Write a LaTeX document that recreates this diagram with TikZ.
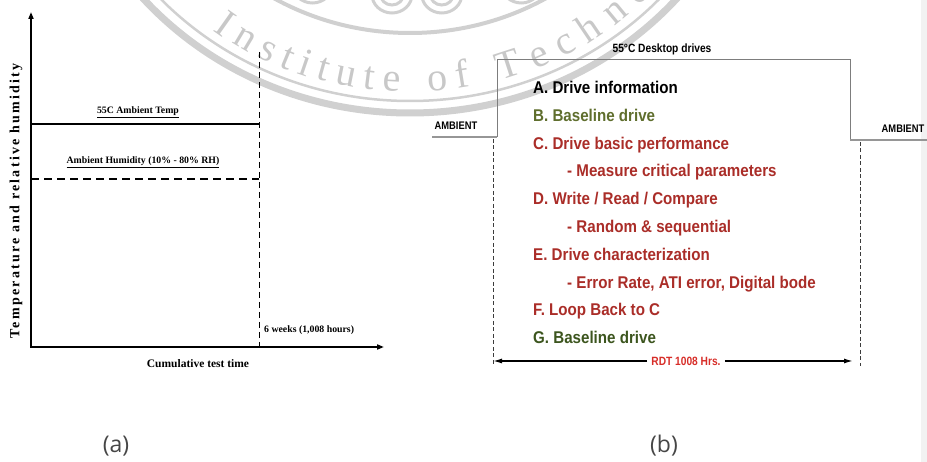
\documentclass[tikz,border=0pt]{standalone}
\usepackage{fontspec}
\setmainfont{Liberation Serif}
\newfontfamily\plotfont{Liberation Serif}
\newfontfamily\ylabfont[LetterSpace=16]{Liberation Serif}
\newfontfamily\stepfont[FakeStretch=0.89]{Liberation Sans}
\newfontfamily\smallsans[FakeStretch=0.85]{Liberation Sans}
\newfontfamily\panelfont{Open Sans}
\newfontfamily\sealfont{Liberation Serif}
\usetikzlibrary{arrows.meta,calc}

\definecolor{stepred}{RGB}{170,45,40}
\definecolor{stepolive}{RGB}{95,110,45}
\definecolor{stepgreen}{RGB}{60,85,30}
\definecolor{rdtred}{RGB}{215,45,40}
\definecolor{sealring}{RGB}{208,208,208}
\definecolor{sealtext}{RGB}{200,200,200}
\definecolor{panelgray}{RGB}{70,70,70}
\definecolor{framegray}{RGB}{125,125,125}
\definecolor{ambgray}{RGB}{150,150,150}
\definecolor{guidegray}{RGB}{60,60,60}

\tikzset{
  axisline/.style={line width=2.2pt, black},
  levelline/.style={line width=1.8pt, black},
  humline/.style={line width=2pt, black, dash pattern=on 8pt off 5pt},
  limitline/.style={line width=1pt, black, dash pattern=on 6pt off 4pt},
  plotlab/.style={inner sep=0pt, font=\plotfont\bfseries\fontsize{9.8}{11}\selectfont},
  panellab/.style={inner sep=0pt, text=panelgray, font=\panelfont\fontsize{23}{26}\selectfont},
  item/.style={inner sep=0pt, anchor=base west, font=\stepfont\bfseries\fontsize{17}{20}\selectfont},
  smalllab/.style={inner sep=0pt, font=\smallsans\bfseries\fontsize{11}{13}\selectfont},
  profile/.style={line width=1pt, framegray},
  ambline/.style={line width=1.8pt, ambgray},
  guide/.style={line width=0.9pt, guidegray, dash pattern=on 4pt off 2.5pt},
  span/.style={line width=1.4pt, black, -{Latex[length=9pt,width=5pt]}},
  sealletter/.style={inner sep=0pt, anchor=base, text=sealtext,
    font=\sealfont\fontsize{40}{40}\selectfont},
  sealband/.style={sealring}
}

\begin{document}
\begin{tikzpicture}[x=1pt,y=-1pt]
\useasboundingbox (0,0) rectangle (927,462);

% ---------- background seal ----------
\begin{scope}
\clip (0,0) rectangle (927,462);
\begin{scope}[shift={(410,-221)}, xscale=1.06]
\coordinate (sealc) at (0,0);
\draw[sealband, line width=4pt] (sealc) circle[radius=254];
\draw[sealband, line width=2.5pt] (sealc) circle[radius=322];
\draw[sealband, line width=7pt] (sealc) circle[radius=334];
\foreach \p in {(-17,215),(30,215),(-92,205),(105,205)} {
  \draw[sealband, line width=3pt] \p circle[radius=19];
  \draw[sealband, line width=3pt] \p circle[radius=11];
}
\foreach \ch/\ang in {I/125.3, n/120.9, s/116.2, t/112.4, i/109.0, t/105.6,
    u/101.4, t/97.2, e/93.2, o/85.1, f/80.7, T/72.0, e/66.3, c/61.2, h/56.0,
    n/50.3, o/44.8, l/40.2, o/35.7, g/30.3, y/24.9}
  \node[sealletter, rotate=90-\ang] at ($(sealc)+(\ang:313)$) {\ch};
\end{scope}
\fill[black!5] (921,0) rectangle (927,462);
\end{scope}

% ---------- (a) temperature / humidity profile ----------
\coordinate (O) at (31,347);
\coordinate (ytip) at (31,12);
\coordinate (xtip) at (384,347);
\draw[axisline, {Triangle[length=7pt,width=5pt]}-{Triangle[length=7pt,width=5pt]}]
  (ytip) -- (O) -- (xtip);

\coordinate (tempL) at (31,124);
\coordinate (tempR) at (259,124);
\draw[levelline] (tempL) -- (tempR);

\coordinate (humL) at (31,179);
\coordinate (humR) at (259,179);
\draw[humline] (humL) -- (humR);

\coordinate (limTop) at (259,52);
\coordinate (limBot) at (259,347);
\draw[limitline] (limTop) -- (limBot);

\node[plotlab] (templab) at (138,112) {\underline{55C Ambient Temp}};
\node[plotlab] (humlab) at (143,162) {\underline{Ambient Humidity (10\% - 80\% RH)}};
\node[plotlab, anchor=west] (weeks) at (264,330) {6 weeks (1,008 hours)};
\node[plotlab, font=\plotfont\bfseries\fontsize{11.5}{13}\selectfont] (xlab) at (198,364) {Cumulative test time};
\node[plotlab, rotate=90, font=\ylabfont\bfseries\fontsize{14}{16}\selectfont] (ylab) at (16,201)
  {Temperature and relative humidity};
\node[panellab] (pa) at (116,446) {(a)};

% ---------- (b) reliability demonstration test sequence ----------
\coordinate (ambLend) at (432,137);
\coordinate (ambLcorner) at (497,137);
\coordinate (boxTL) at (497,60);
\coordinate (boxTR) at (850,60);
\coordinate (ambRcorner) at (850,140);
\coordinate (ambRend) at (927,140);
\draw[profile] (ambLcorner) -- (boxTL) -- (boxTR) -- (ambRcorner);
\draw[ambline] (ambLend) -- (ambLcorner);
\draw[ambline] (ambRcorner) -- (ambRend);

\coordinate (gLtop) at (493,139);
\coordinate (gLbot) at (493,366);
\coordinate (gRtop) at (860,142);
\coordinate (gRbot) at (860,366);
\draw[guide] (gLtop) -- (gLbot);
\draw[guide] (gRtop) -- (gRbot);

\node[smalllab, font=\smallsans\bfseries\fontsize{12}{14}\selectfont] (hdr) at (662,49) {55°C Desktop drives};
\node[smalllab] (ambL) at (456,126) {AMBIENT};
\node[smalllab] (ambR) at (903,129) {AMBIENT};

\node[item, text=black]     (sA) at (533,94)  {A. Drive information};
\node[item, text=stepolive] (sB) at (533,122) {B. Baseline drive};
\node[item, text=stepred]   (sC) at (533,150) {C. Drive basic performance};
\node[item, text=stepred]   (sC1) at (567,177) {- Measure critical parameters};
\node[item, text=stepred]   (sD) at (533,205) {D. Write / Read / Compare};
\node[item, text=stepred]   (sD1) at (567,233) {- Random \& sequential};
\node[item, text=stepred]   (sE) at (533,261) {E. Drive characterization};
\node[item, text=stepred]   (sE1) at (567,289) {- Error Rate, ATI error, Digital bode};
\node[item, text=stepred]   (sF) at (533,316) {F. Loop Back to C};
\node[item, text=stepgreen] (sG) at (533,344) {G. Baseline drive};

\node[smalllab, text=rdtred, inner xsep=4pt, font=\smallsans\bfseries\fontsize{12}{14}\selectfont]
  (rdt) at (686,361) {RDT 1008 Hrs.};
\coordinate (arrL) at (493,361);
\coordinate (arrR) at (853,361);
\draw[span] (rdt.west) -- (arrL);
\draw[span] (rdt.east) -- (arrR);

\node[panellab] (pb) at (664,446) {(b)};
\end{tikzpicture}
\end{document}
